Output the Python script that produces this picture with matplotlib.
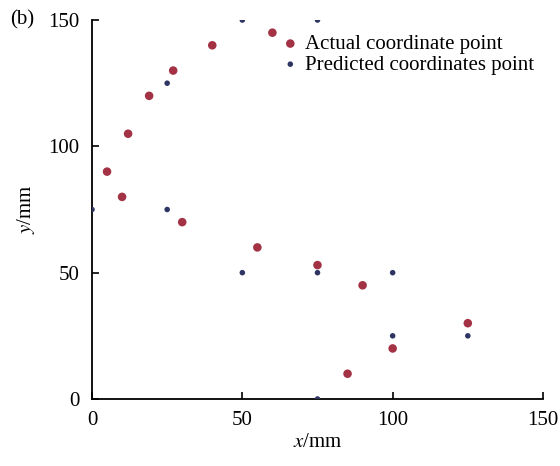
import matplotlib.pyplot as plt

plt.rcParams['font.family'] = ['Liberation Serif', 'DejaVu Serif']
plt.rcParams['mathtext.fontset'] = 'stix'

# actual coordinate points (mm)
actual_x = [5, 10, 12, 19, 27, 40, 60, 30, 55, 75, 90, 85, 100, 125]
actual_y = [90, 80, 105, 120, 130, 140, 145, 70, 60, 53, 45, 10, 20, 30]

# predicted coordinate points (mm)
pred_x = [0, 25, 25, 50, 75, 50, 75, 100, 100, 125, 75]
pred_y = [75, 75, 125, 150, 150, 50, 50, 50, 25, 25, 0]

fig = plt.figure(figsize=(5.6, 4.66), dpi=100)
ax = fig.add_axes([0.1643, 0.1438, 0.8053, 0.8132])

ax.scatter(actual_x, actual_y, s=38, color='#a33344', edgecolors='none',
           label='Actual coordinate point', zorder=3)
ax.scatter(pred_x, pred_y, s=16, color='#2e3563', edgecolors='none',
           label='Predicted coordinates point', zorder=4)

ax.set_xlim(0, 150)
ax.set_ylim(0, 150)
ax.set_xticks([0, 50, 100, 150])
ax.set_yticks([0, 50, 100, 150])

for s in ['top', 'right']:
    ax.spines[s].set_visible(False)
for s in ['left', 'bottom']:
    ax.spines[s].set_linewidth(1.3)

ax.tick_params(direction='in', length=5, width=1.2, labelsize=15, pad=9)

ax.set_xlabel('$x$/mm', fontsize=15, labelpad=2)
ax.set_ylabel('$y$/mm', fontsize=15, labelpad=8)

fig.text(0.018, 0.957, '(b)', fontsize=15, va='center')

ax.legend(loc='upper left', bbox_to_anchor=(0.412, 0.962), frameon=False,
          fontsize=15, handlelength=1.2, handletextpad=0.1, borderpad=0.0,
          labelspacing=0.05, markerscale=1.0, borderaxespad=0.0)

fig.savefig('out.png', dpi=100)
